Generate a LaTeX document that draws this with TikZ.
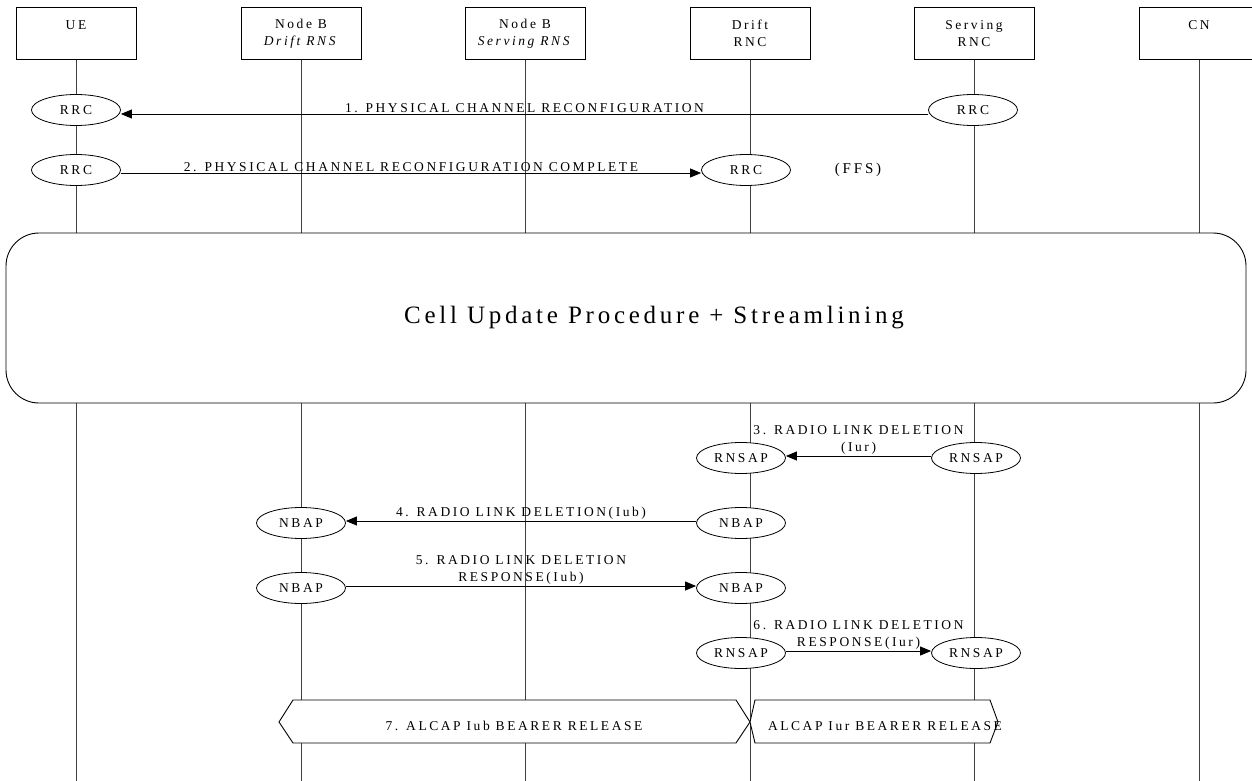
\documentclass[tikz,border=0pt]{standalone}
\usepackage{fontspec}
\setmainfont{Liberation Serif}[LetterSpace=19]
\newfontfamily\bigfont{Liberation Serif}[LetterSpace=15]
\usetikzlibrary{shapes,arrows.meta}

\begin{document}
\begin{tikzpicture}[
    x=1pt, y=-1pt,
    entity/.style={rectangle, draw, line width=0.9pt, minimum width=120pt, minimum height=52pt, anchor=north, align=center, font=\fontsize{13.5}{17}\selectfont},
    life/.style={line width=0.9pt, black!75},
    proto/.style={ellipse, draw, fill=white, line width=0.8pt, minimum width=89pt, minimum height=31pt, inner sep=0pt, font=\fontsize{13.5}{15}\selectfont},
    msg/.style={line width=0.8pt, -{Triangle[length=11pt, width=9pt]}},
    lbl/.style={anchor=south, inner xsep=2pt, inner ysep=1pt, align=center, font=\fontsize{13.5}{17}\selectfont},
    proc/.style={rectangle, draw, fill=white, line width=0.9pt, rounded corners=33pt, minimum width=1240pt, minimum height=170pt},
    bearer/.style={draw, fill=white, line width=0.9pt},
    txt/.style={inner sep=0pt, font=\fontsize{13.5}{15}\selectfont}
]
    \useasboundingbox (0,0) rectangle (1252,781);

    \node[entity] (UE) at (76,7) {UE\\~};
    \node[entity] (NBD) at (301,7) {Node B\\\textit{Drift RNS}};
    \node[entity] (NBS) at (525,7) {Node B\\\textit{Serving RNS}};
    \node[entity] (DRNC) at (750,7) {Drift\\RNC};
    \node[entity] (SRNC) at (974,7) {Serving\\RNC};
    \node[entity] (CN) at (1199,7) {CN\\~};

    \foreach \n/\x in {UE/76, NBD/301, NBS/525, DRNC/750, SRNC/974, CN/1199} {
        \coordinate (\n end) at (\x,781);
        \draw[life] (\n.south) -- (\n end);
    }

    \node[proto] (UErrc1) at (76,110) {RRC};
    \node[proto] (SRNCrrc1) at (973,110) {RRC};
    \node[proto] (UErrc2) at (76,170) {RRC};
    \node[proto] (DRNCrrc2) at (746,170) {RRC};
    \node[txt, font=\fontsize{15}{17}\selectfont] (FFS) at (858,170) {(FFS)};

    \draw[msg] ([yshift=-4pt]SRNCrrc1.west) -- node[lbl] {1. PHYSICAL CHANNEL RECONFIGURATION} ([yshift=-4pt]UErrc1.east);
    \draw[msg] ([yshift=-3pt]UErrc2.east) -- node[lbl] {2. PHYSICAL CHANNEL RECONFIGURATION COMPLETE} ([yshift=-3pt]DRNCrrc2.west);

    \node[proc] (CUP) at (626,318) {};
    \node[txt, font=\bigfont\fontsize{25}{28}\selectfont] (CUPtext) at (654,318) {Cell Update Procedure + Streamlining};

    \node[proto] (DRNCrnsap1) at (741,458) {RNSAP};
    \node[proto] (SRNCrnsap1) at (976,458) {RNSAP};
    \node[proto] (NBDnbap1) at (301,523) {NBAP};
    \node[proto] (DRNCnbap1) at (741,523) {NBAP};
    \node[proto] (NBDnbap2) at (301,588) {NBAP};
    \node[proto] (DRNCnbap2) at (741,588) {NBAP};
    \node[proto] (DRNCrnsap2) at (741,653) {RNSAP};
    \node[proto] (SRNCrnsap2) at (976,653) {RNSAP};

    \draw[msg] ([yshift=2pt]SRNCrnsap1.west) -- node[lbl] {3. RADIO LINK DELETION\\(Iur)} ([yshift=2pt]DRNCrnsap1.east);
    \draw[msg] ([yshift=2pt]DRNCnbap1.west) -- node[lbl] {4. RADIO LINK DELETION(Iub)} ([yshift=2pt]NBDnbap1.east);
    \draw[msg] ([yshift=2pt]NBDnbap2.east) -- node[lbl] {5. RADIO LINK DELETION\\RESPONSE(Iub)} ([yshift=2pt]DRNCnbap2.west);
    \draw[msg] ([yshift=2pt]DRNCrnsap2.east) -- node[lbl] {6. RADIO LINK DELETION\\RESPONSE(Iur)} ([yshift=2pt]SRNCrnsap2.west);

    \draw[bearer] (279,722) -- (293,700) -- (736,700) -- (750,722) -- (736,743) -- (293,743) -- cycle;
    \node[txt] (Iub) at (514,726) {7. ALCAP Iub BEARER RELEASE};
    \draw[bearer] (750,722) -- (755,700) -- (990,700) -- (998,722) -- (990,743) -- (755,743) -- cycle;
    \node[txt] (Iur) at (885,726) {ALCAP Iur BEARER RELEASE};

\end{tikzpicture}
\end{document}
